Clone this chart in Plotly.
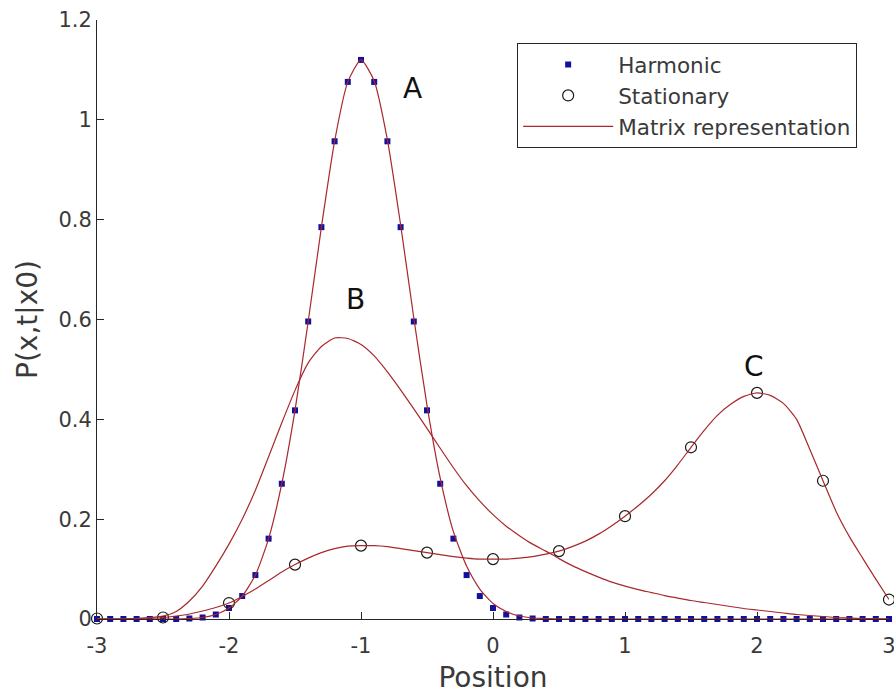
import numpy as np
import plotly.graph_objects as go

# Position grid shared by the harmonic samples and the matrix-representation curves
position = np.round(np.arange(-30, 31) / 10, 1)

harmonic_p = [
    0.000, 0.000, 0.000, 0.000, 0.000, 0.000, 0.000,            # -3.0 .. -2.4
    0.001, 0.003, 0.009, 0.022, 0.046, 0.088, 0.161, 0.271,     # -2.3 .. -1.6
    0.418, 0.596, 0.785, 0.957, 1.076, 1.120, 1.076, 0.957,     # -1.5 .. -0.8
    0.785, 0.596, 0.418, 0.271, 0.161, 0.088, 0.046, 0.022,     # -0.7 ..  0.0
    0.009, 0.003, 0.001,                                        #  0.1 ..  0.3
    0.000, 0.000, 0.000, 0.000, 0.000, 0.000, 0.000, 0.000, 0.000,   # 0.4 .. 1.2
    0.000, 0.000, 0.000, 0.000, 0.000, 0.000, 0.000, 0.000, 0.000,   # 1.3 .. 2.1
    0.000, 0.000, 0.000, 0.000, 0.000, 0.000, 0.000, 0.000, 0.000,   # 2.2 .. 3.0
]

matrix_a = [
    0.000, 0.000, 0.000, 0.000, 0.000, 0.000, 0.000,            # -3.0 .. -2.4
    0.001, 0.003, 0.009, 0.022, 0.046, 0.088, 0.161, 0.271,     # -2.3 .. -1.6
    0.418, 0.596, 0.785, 0.957, 1.076, 1.120, 1.078, 0.960,     # -1.5 .. -0.8
    0.790, 0.603, 0.428, 0.282, 0.175, 0.106, 0.060, 0.031,     # -0.7 ..  0.0
    0.015, 0.006, 0.002, 0.001,                                 #  0.1 ..  0.4
    0.000, 0.000, 0.000, 0.000, 0.000, 0.000, 0.000, 0.000,     #  0.5 ..  1.2
    0.000, 0.000, 0.000, 0.000, 0.000, 0.000, 0.000, 0.000, 0.000,   # 1.3 .. 2.1
    0.000, 0.000, 0.000, 0.000, 0.000, 0.000, 0.000, 0.000, 0.000,   # 2.2 .. 3.0
]

matrix_b = [
    0.000, 0.000, 0.000, 0.001, 0.003, 0.006, 0.015, 0.036,     # -3.0 .. -2.3
    0.066, 0.106, 0.150, 0.200, 0.258, 0.325, 0.393, 0.458,     # -2.2 .. -1.5
    0.513, 0.546, 0.563, 0.562, 0.550, 0.527, 0.495, 0.459,     # -1.4 .. -0.7
    0.421, 0.382, 0.342, 0.303, 0.267, 0.236, 0.209, 0.186,     # -0.6 ..  0.1
    0.167, 0.150, 0.136, 0.121, 0.107, 0.095, 0.084, 0.074,     #  0.2 ..  0.9
    0.066, 0.059, 0.053, 0.047, 0.042, 0.037, 0.033, 0.029,     #  1.0 ..  1.7
    0.025, 0.021, 0.018, 0.015, 0.012, 0.009, 0.007, 0.005,     #  1.8 ..  2.5
    0.003, 0.002, 0.001, 0.001, 0.000,                          #  2.6 ..  3.0
]

matrix_c = [
    0.000, 0.000, 0.000, 0.001, 0.002, 0.003, 0.006, 0.010,     # -3.0 .. -2.3
    0.016, 0.023, 0.032, 0.045, 0.060, 0.077, 0.094, 0.109,     # -2.2 .. -1.5
    0.122, 0.133, 0.141, 0.146, 0.147, 0.147, 0.145, 0.141,     # -1.4 .. -0.7
    0.137, 0.133, 0.129, 0.125, 0.122, 0.120, 0.120, 0.120,     # -0.6 ..  0.1
    0.122, 0.125, 0.130, 0.136, 0.145, 0.156, 0.170, 0.187,     #  0.2 ..  0.9
    0.206, 0.227, 0.250, 0.277, 0.309, 0.344, 0.378, 0.408,     #  1.0 ..  1.7
    0.430, 0.446, 0.453, 0.448, 0.432, 0.400, 0.340, 0.277,     #  1.8 ..  2.5
    0.215, 0.165, 0.122, 0.080, 0.039,                          #  2.6 ..  3.0
]

# Stationary-basis samples every 0.5
stationary_x = [-3.0, -2.5, -2.0, -1.5, -1.0, -0.5, 0.0, 0.5, 1.0, 1.5, 2.0, 2.5, 3.0]
stationary_p = [0.001, 0.003, 0.032, 0.109, 0.147, 0.133, 0.120, 0.136,
                0.206, 0.344, 0.453, 0.277, 0.039]

# Curve labels and where they sit
curve_labels = ["A", "B", "C"]
label_x = [-0.61, -1.04, 1.98]
label_y = [1.063, 0.640, 0.505]

FONT = "DejaVu Sans"
RED = "#a8282c"
BLUE = "#14109e"
INK = "#262626"
TEXT = "#3a3a3a"

fig = go.Figure()

fig.add_trace(go.Scatter(
    x=position, y=harmonic_p, mode="markers", name="Harmonic",
    marker=dict(symbol="square", size=6, color=BLUE, line=dict(width=0)),
    cliponaxis=False,
))
fig.add_trace(go.Scatter(
    x=stationary_x, y=stationary_p, mode="markers", name="Stationary",
    marker=dict(symbol="circle-open", size=11, color="#1a1a1a", line=dict(width=1.2)),
    cliponaxis=False,
))
for i, ys in enumerate([matrix_a, matrix_b, matrix_c]):
    fig.add_trace(go.Scatter(
        x=position, y=ys, mode="lines", name="Matrix representation",
        line=dict(color=RED, width=1.2, shape="spline", smoothing=0.6),
        legendgroup="matrix", showlegend=(i == 0), cliponaxis=False,
    ))

for t, lx, ly in zip(curve_labels, label_x, label_y):
    fig.add_annotation(x=lx, y=ly, text=t, showarrow=False,
                       font=dict(family=FONT, size=28, color="#111111"))

axis_common = dict(
    showline=True, linecolor=INK, linewidth=1, mirror=False,
    ticks="inside", ticklen=7, tickcolor=INK, tickwidth=1,
    showgrid=False, zeroline=False, automargin=False,
    tickfont=dict(family=FONT, size=21, color=TEXT),
    ticklabeloverflow="allow",
)

fig.update_layout(
    width=894, height=694,
    margin=dict(l=97, r=5, t=20, b=75),
    paper_bgcolor="white", plot_bgcolor="white",
    font=dict(family=FONT, color=TEXT),
    xaxis=dict(range=[-3, 3], tickvals=[-3, -2, -1, 0, 1, 2, 3],
               ticktext=["-3", "-2", "-1", "0", "1", "2", "3"],
               title=dict(text="Position", font=dict(family=FONT, size=28, color=TEXT),
                          standoff=11),
               ticklabelstandoff=8,
               **axis_common),
    yaxis=dict(range=[0, 1.2], tickvals=[0, 0.2, 0.4, 0.6, 0.8, 1.0, 1.2],
               ticktext=["0", "0.2", "0.4", "0.6", "0.8", "1", "1.2"],
               title=dict(text="P(x,t|x0)", font=dict(family=FONT, size=28, color=TEXT),
                          standoff=12),
               **axis_common),
    legend=dict(
        x=0.5305, y=0.9616, xanchor="left", yanchor="top",
        bordercolor=INK, borderwidth=1, bgcolor="white",
        font=dict(family=FONT, size=21.5, color=TEXT),
        itemwidth=90, tracegroupgap=0,
    ),
    showlegend=True,
)

fig.write_html("out.html")
